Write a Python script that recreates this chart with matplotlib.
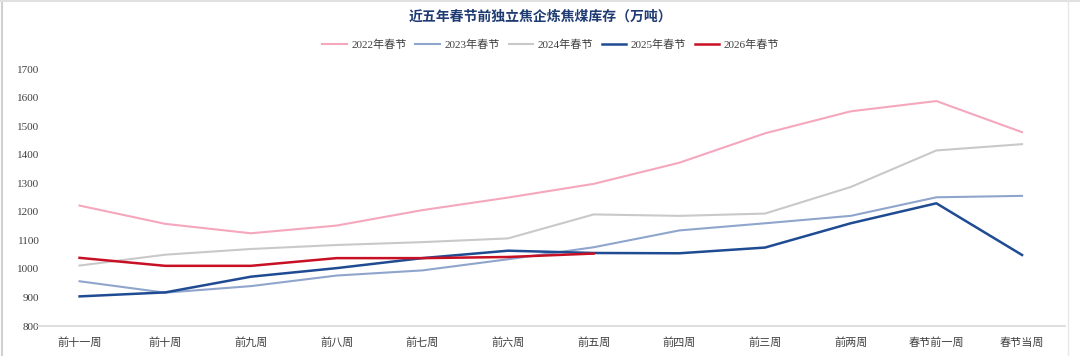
import matplotlib
matplotlib.use("Agg")
import matplotlib.pyplot as plt
import numpy as np

plt.rcParams['font.family'] = ['Liberation Serif', 'Noto Sans CJK SC', 'DejaVu Sans']

weeks = ["前十一周", "前十周", "前九周", "前八周", "前七周", "前六周",
         "前五周", "前四周", "前三周", "前两周", "春节前一周", "春节当周"]

y2022 = [1222, 1158, 1125, 1152, 1206, 1250, 1298, 1372, 1475, 1552, 1588, 1479]
y2023 = [957, 917, 940, 977, 995, 1034, 1076, 1135, 1160, 1186, 1251, 1256]
y2024 = [1012, 1050, 1070, 1084, 1094, 1107, 1191, 1186, 1194, 1287, 1415, 1437]
y2025 = [904, 918, 973, 1003, 1038, 1064, 1056, 1055, 1075, 1160, 1230, 1049]
y2026 = [1039, 1011, 1011, 1038, 1038, 1042, 1054]

series = [
    ("2022年春节", y2022, "#f4a7bd", 1.5),
    ("2023年春节", y2023, "#8fa5cc", 1.5),
    ("2024年春节", y2024, "#c9c9c9", 1.5),
    ("2025年春节", y2025, "#1f4b93", 1.8),
    ("2026年春节", y2026, "#c81025", 1.8),
]

fig = plt.figure(figsize=(10.8, 3.56), dpi=100)
ax = fig.add_axes([0.034, 0.084, 0.952, 0.722])

x = np.arange(len(weeks))
for label, vals, color, lw in series:
    ax.plot(x[:len(vals)], vals, color=color, linewidth=lw, label=label)

ax.set_xlim(-0.5, len(weeks) - 0.5)
ax.set_ylim(800, 1700)
ax.set_yticks(np.arange(800, 1701, 100))
ax.set_xticks(x)
ax.set_xticklabels(weeks, family=['Noto Sans CJK SC'])
ax.tick_params(axis='both', length=0, labelsize=8, colors='#404040')
ax.tick_params(axis='x', pad=8)
ax.tick_params(axis='y', pad=-2)
for s in ['top', 'right', 'left']:
    ax.spines[s].set_visible(False)
ax.spines['bottom'].set_color('#d9d9d9')
ax.spines['bottom'].set_linewidth(1.2)

fig.text(0.5, 0.952, "近五年春节前独立焦企炼焦煤库存（万吨）", ha='center', va='center',
         fontsize=10, fontweight='bold', color='#1f3b73', family=['Noto Sans CJK SC'])

ax.legend(loc='center', bbox_to_anchor=(0.5, 1.094), ncol=5, frameon=False,
          fontsize=8, handlelength=2.2, columnspacing=0.8, handletextpad=0.4,
          labelcolor='#404040')

# light frame around the picture
fig.add_artist(plt.Line2D([0.002, 0.002], [0, 1], color='#d0d0d0', lw=1.5))
fig.add_artist(plt.Line2D([0, 1], [0.998, 0.998], color='#e0e0e0', lw=1.5))
fig.add_artist(plt.Line2D([0.989, 0.989], [0, 1], color='#e8e8e8', lw=1))

fig.savefig("out.png", dpi=100)
